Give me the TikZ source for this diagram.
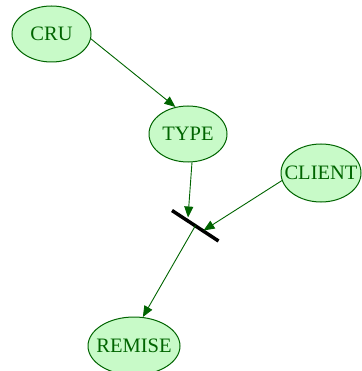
\documentclass[tikz,border=0pt]{standalone}
\usepackage{fontspec}
\setmainfont{Liberation Serif}
\usetikzlibrary{shapes.geometric,arrows.meta}
\definecolor{nodefill}{RGB}{200,250,200}
\definecolor{dgreen}{RGB}{0,100,0}
\tikzset{
  state/.style={ellipse, draw=dgreen, fill=nodefill, line width=1pt, inner sep=0pt,
    text=dgreen, font=\fontsize{20.5}{24}\selectfont},
  link/.style={draw=dgreen, line width=0.9pt, -{Triangle[length=11pt,width=9pt]}, color=dgreen},
  barline/.style={line width=3.5pt, black}
}
\begin{document}
\begin{tikzpicture}[x=1pt,y=-1pt]
\useasboundingbox (0,0) rectangle (361,371);
\node[state, minimum width=79pt, minimum height=56pt] (cru) at (51.5,34) {\makebox[0pt]{CRU}};
\node[state, minimum width=78pt, minimum height=56pt] (type) at (188,134) {\makebox[0pt]{TYPE}};
\node[state, minimum width=80pt, minimum height=58pt] (client) at (321,173) {\makebox[0pt]{CLIENT}};
\node[state, minimum width=92pt, minimum height=58pt] (remise) at (134,346) {\makebox[0pt]{REMISE}};
\coordinate (b1) at (172,210.5);
\coordinate (b2) at (218.5,241);
\coordinate (bc) at (195.5,225.5);
\coordinate (tin1) at (188,217.5);
\coordinate (tin2) at (203.5,230.5);
\draw[barline] (b1) -- (b2);
\draw[link] (cru.-7) -- (type.115);
\draw[link] (type.-82) -- (tin1);
\draw[link] (client.-169) -- (tin2);
\draw[link] (bc) -- (remise.73);
\end{tikzpicture}
\end{document}
